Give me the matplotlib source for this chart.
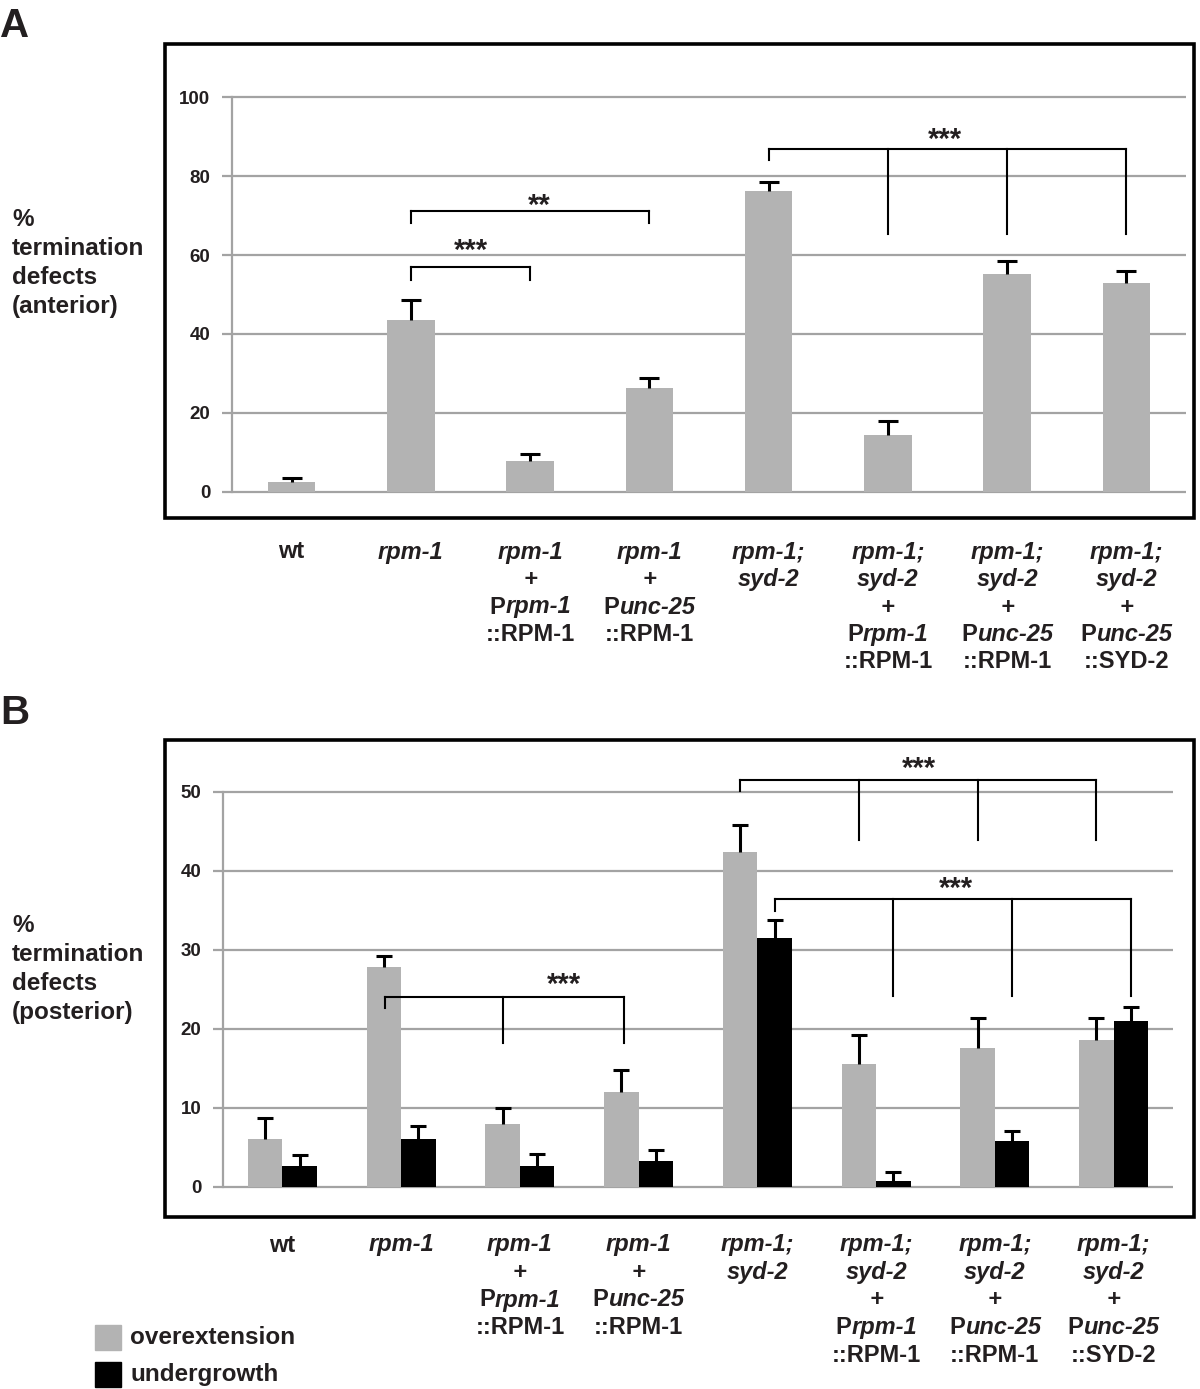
import numpy as np
import matplotlib.pyplot as plt
from matplotlib.patches import Rectangle
from matplotlib.offsetbox import TextArea, HPacker, AnnotationBbox

plt.rcParams['font.family'] = ['Liberation Sans', 'DejaVu Sans']
plt.rcParams['font.weight'] = 'bold'

# ---- data ----
# x labels: each label is a list of lines, each line a list of (text, italic)
labels = [
    [[('wt', 0)]],
    [[('rpm-1', 1)]],
    [[('rpm-1', 1)], [('+', 1)], [('P', 0), ('rpm-1', 1)], [('::RPM-1', 0)]],
    [[('rpm-1', 1)], [('+', 1)], [('P', 0), ('unc-25', 1)], [('::RPM-1', 0)]],
    [[('rpm-1;', 1)], [('syd-2', 1)]],
    [[('rpm-1;', 1)], [('syd-2', 1)], [('+', 1)], [('P', 0), ('rpm-1', 1)], [('::RPM-1', 0)]],
    [[('rpm-1;', 1)], [('syd-2', 1)], [('+', 1)], [('P', 0), ('unc-25', 1)], [('::RPM-1', 0)]],
    [[('rpm-1;', 1)], [('syd-2', 1)], [('+', 1)], [('P', 0), ('unc-25', 1)], [('::SYD-2', 0)]],
]

ant_mean = [2.5, 43.5, 7.8, 26.2, 76.2, 14.5, 55.1, 53.0]
ant_err = [1.1, 5.1, 1.7, 2.7, 2.2, 3.4, 3.4, 3.0]

post_over = [6.0, 27.8, 7.9, 12.0, 42.4, 15.5, 17.6, 18.6]
post_over_err = [2.7, 1.4, 2.1, 2.8, 3.4, 3.7, 3.7, 2.7]
post_under = [2.6, 6.0, 2.6, 3.2, 31.5, 0.7, 5.8, 21.0]
post_under_err = [1.4, 1.7, 1.6, 1.5, 2.2, 1.1, 1.3, 1.7]

# significance brackets: (legs x, line y, first leg bottom, other legs bottom, stars, star x, star y)
brackets_A = [
    ([1, 2], 57.0, 53.8, 53.8, '***', 1.5, 62.1),
    ([1, 3], 71.2, 68.2, 68.2, '**', 2.08, 73.7),
    ([4, 5, 6, 7], 86.9, 84.1, 65.3, '***', 5.48, 90.4),
]
brackets_B = [
    ([0.86, 1.855, 2.88], 24.05, 22.6, 18.2, '***', 2.37, 26.1),
    ([3.855, 4.855, 5.855, 6.855], 51.5, 50.1, 43.9, '***', 5.36, 53.5),
    ([4.145, 5.145, 6.145, 7.145], 36.4, 34.9, 24.1, '***', 5.67, 38.2),
]

W, H = 1200, 1389
GRAY_BAR = '#b3b3b3'
GRID = '#a3a3a3'
TXT = '#231f20'
XFONT = ['Liberation Sans Narrow', 'Liberation Sans', 'DejaVu Sans']


def fig_rect(x0, y0, x1, y1):
    return [x0 / W, 1 - y1 / H, (x1 - x0) / W, (y1 - y0) / H]


fig = plt.figure(figsize=(W / 100, H / 100), dpi=100)


def style_axes(ax, ymax, step):
    ax.set_xlim(-0.5, 7.5)
    ax.set_ylim(0, ymax)
    yt = np.arange(0, ymax + 1, step)
    ax.set_yticks(yt)
    ax.hlines(yt, -0.5, 7.5, colors=GRID, lw=1.6, zorder=0, clip_on=False)
    for s in ['top', 'right', 'bottom']:
        ax.spines[s].set_visible(False)
    ax.spines['left'].set_color(GRID)
    ax.spines['left'].set_linewidth(1.6)
    ax.set_xticks([])
    ax.tick_params(axis='y', direction='out', length=7.5, width=1.6, color=GRID,
                   pad=8, labelsize=13.5, labelcolor=TXT)
    for t in ax.get_yticklabels():
        t.set_fontweight('bold')


def put_labels(ax, y0px):
    for i, lines in enumerate(labels):
        for k, parts in enumerate(lines):
            kids = [TextArea(t, textprops=dict(fontsize=17, fontweight='bold',
                                               fontstyle='italic' if it else 'normal',
                                               family=XFONT, color=TXT))
                    for t, it in parts]
            box = HPacker(children=kids, pad=0, sep=0, align='baseline')
            ab = AnnotationBbox(box, (i, 0), xycoords=('data', 'axes fraction'),
                                xybox=(0, -(y0px + k * 27.5) * 0.72), boxcoords='offset points',
                                frameon=False, box_alignment=(0.5, 0.5), pad=0,
                                annotation_clip=False)
            ax.add_artist(ab)


def draw_brackets(ax, brackets):
    for legs, y, b0, b1, stars, sx, sy in brackets:
        ax.plot([legs[0], legs[-1]], [y, y], color='black', lw=1.5, clip_on=False)
        ax.plot([legs[0], legs[0]], [y, b0], color='black', lw=1.5, clip_on=False)
        for lx in legs[1:]:
            ax.plot([lx, lx], [y, b1], color='black', lw=1.5, clip_on=False)
        ax.annotate(stars, (sx, sy), xytext=(0, -9), textcoords='offset points',
                    ha='center', va='baseline', fontsize=21, fontweight='bold',
                    color=TXT, annotation_clip=False)


def up_err(ax, x, y, e, cap):
    _, caps, _ = ax.errorbar(x, y, yerr=[np.zeros(len(e)), e], fmt='none', ecolor='black',
                             elinewidth=2.2, capsize=cap, capthick=2.2, zorder=3)
    caps[0].set_visible(False)


x = np.arange(len(labels))

# ---- panel A ----
axA = fig.add_axes(fig_rect(232, 97.3, 1186, 491.7))
style_axes(axA, 100, 20)
axA.bar(x, ant_mean, width=0.40, color=GRAY_BAR, zorder=2)
up_err(axA, x, ant_mean, ant_err, 7)
draw_brackets(axA, brackets_A)
put_labels(axA, 60.3)

# ---- panel B ----
axB = fig.add_axes(fig_rect(223, 791.7, 1173, 1186.7))
style_axes(axB, 50, 10)
bw = 0.29
axB.bar(x - bw / 2, post_over, width=bw, color=GRAY_BAR, zorder=2)
axB.bar(x + bw / 2, post_under, width=bw, color='black', zorder=2)
up_err(axB, x - bw / 2, post_over, post_over_err, 5.8)
up_err(axB, x + bw / 2, post_under, post_under_err, 5.8)
draw_brackets(axB, brackets_B)
put_labels(axB, 58.3)

# ---- frames, panel letters, y titles ----
for y0, y1 in [(44, 518), (740, 1217)]:
    fig.patches.append(Rectangle((165 / W, 1 - y1 / H), (1194 - 165) / W, (y1 - y0) / H,
                                 transform=fig.transFigure, fill=False, lw=2.6,
                                 ec='black', zorder=10))

fig.text(0 / W, 1 - 37 / H, 'A', fontsize=29, fontweight='bold', color=TXT, va='baseline')
fig.text(0 / W, 1 - 724 / H, 'B', fontsize=29, fontweight='bold', color=TXT, va='baseline')

fig.text(12 / W, 1 - 263 / H, '%\ntermination\ndefects\n(anterior)', fontsize=17.5,
         fontweight='bold', color=TXT, ha='left', va='center', linespacing=1.35)
fig.text(12 / W, 1 - 969 / H, '%\ntermination\ndefects\n(posterior)', fontsize=17.5,
         fontweight='bold', color=TXT, ha='left', va='center', linespacing=1.35)

# ---- legend ----
fig.patches.append(Rectangle((95 / W, 1 - 1350 / H), 26 / W, 25 / H,
                             transform=fig.transFigure, color=GRAY_BAR))
fig.patches.append(Rectangle((95 / W, 1 - 1387 / H), 26 / W, 25 / H,
                             transform=fig.transFigure, color='black'))
fig.text(130 / W, 1 - 1338 / H, 'overextension', fontsize=17.5, fontweight='bold',
         color=TXT, va='center')
fig.text(130 / W, 1 - 1374 / H, 'undergrowth', fontsize=17.5, fontweight='bold',
         color=TXT, va='center')

fig.savefig('out.png', dpi=100)
